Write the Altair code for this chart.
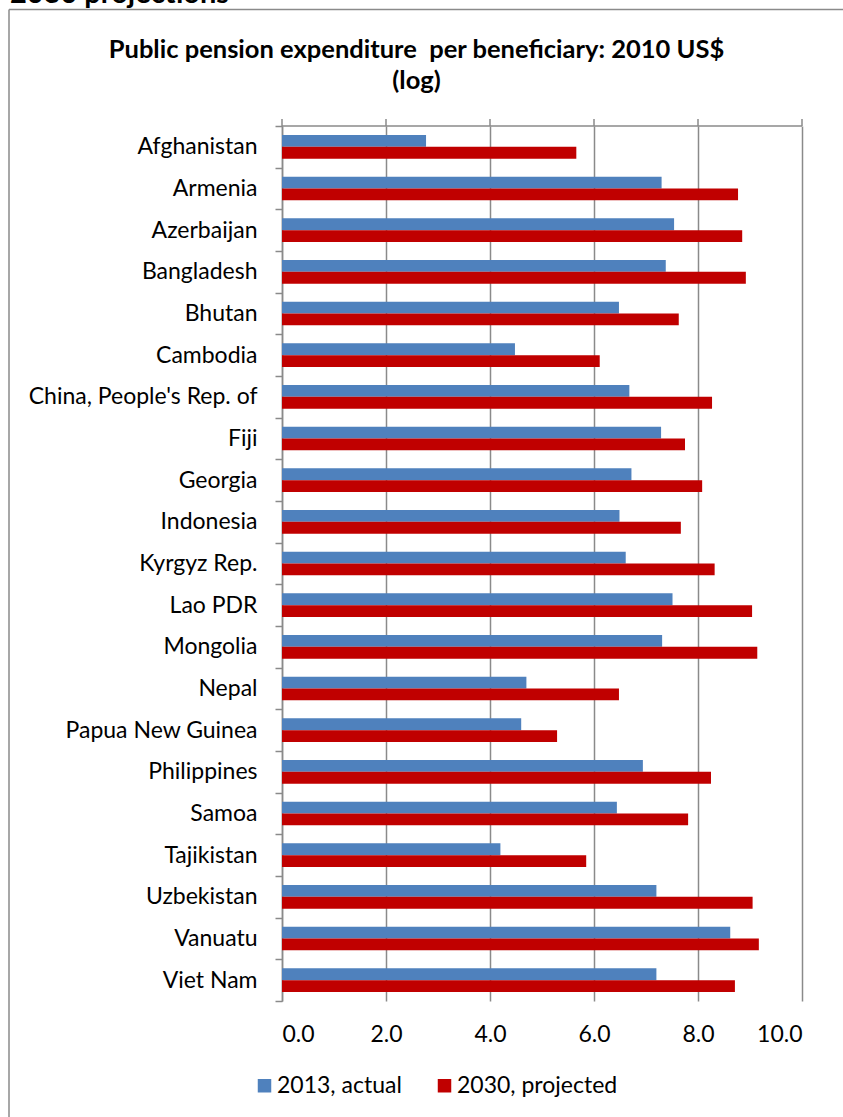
import altair as alt
import pandas as pd

# Categories and series values (log of 2010 US$ per beneficiary)
countries = [
    "Afghanistan", "Armenia", "Azerbaijan", "Bangladesh", "Bhutan", "Cambodia",
    "China, People's Rep. of", "Fiji", "Georgia", "Indonesia", "Kyrgyz Rep.",
    "Lao PDR", "Mongolia", "Nepal", "Papua New Guinea", "Philippines", "Samoa",
    "Tajikistan", "Uzbekistan", "Vanuatu", "Viet Nam",
]
actual_2013 = [2.77, 7.30, 7.54, 7.38, 6.48, 4.48, 6.68, 7.29, 6.72, 6.49, 6.61,
               7.51, 7.31, 4.70, 4.60, 6.94, 6.44, 4.20, 7.20, 8.62, 7.20]
projected_2030 = [5.66, 8.77, 8.85, 8.92, 7.63, 6.11, 8.27, 7.75, 8.08, 7.67, 8.32,
                  9.04, 9.14, 6.48, 5.29, 8.25, 7.81, 5.85, 9.05, 9.17, 8.71]
series = ["2013, actual", "2030, projected"]
colors = ["#4F81BD", "#C00000"]
x_ticks = [0, 2, 4, 6, 8, 10]

# the double space after "expenditure" is kept with a no-break space
title_lines = ["Public pension expenditure \u00a0per beneficiary: 2010 US$", "(log)"]
heading = "2030 projections"

FONT = "Lato"
GRID = "#8A8A8A"
LABEL_SIZE = 23

rows = []
for c, a, p in zip(countries, actual_2013, projected_2030):
    rows.append({"country": c, "series": series[0], "value": a})
    rows.append({"country": c, "series": series[1], "value": p})
df = pd.DataFrame(rows)

x_scale = alt.Scale(domain=[0, 10], nice=False, zero=True)
x_axis = alt.Axis(
    values=x_ticks, format=".1f", title=None, domain=False, ticks=False,
    grid=True, gridColor=GRID, gridWidth=1.5,
    labelFont=FONT, labelFontSize=LABEL_SIZE, labelColor="black",
    labelPadding=22,
)

bars = alt.Chart(df).mark_bar().encode(
    x=alt.X("value:Q", scale=x_scale, axis=x_axis),
    y=alt.Y(
        "country:N",
        sort=countries,
        scale=alt.Scale(paddingInner=0, paddingOuter=0),
        axis=alt.Axis(
            title=None, tickBand="extent", tickSize=7, tickColor=GRID, tickWidth=1.5,
            domainColor=GRID, domainWidth=1.5,
            labelFont=FONT, labelFontSize=LABEL_SIZE, labelColor="black",
            labelPadding=18, labelLimit=400,
        ),
    ),
    yOffset=alt.YOffset(
        "series:N", sort=series,
        scale=alt.Scale(paddingInner=0, paddingOuter=0.766),
    ),
    color=alt.Color(
        "series:N",
        scale=alt.Scale(domain=series, range=colors),
        legend=alt.Legend(
            title=None, orient="none", legendX=-29, legendY=948,
            direction="horizontal", symbolType="square", symbolSize=182,
            symbolStrokeWidth=0, labelFont=FONT, labelFontSize=LABEL_SIZE,
            labelColor="black", labelOffset=1, labelLimit=400,
            columnPadding=31, padding=0,
        ),
    ),
)

# Value-axis line along the top of the plot with outward ticks
top_line = alt.Chart(pd.DataFrame({"value": [0], "end": [10]})).mark_rule(
    color=GRID, strokeWidth=1.5
).encode(
    x=alt.X("value:Q", scale=x_scale, axis=x_axis),
    x2="end:Q",
    y=alt.value(0),
)
top_ticks = alt.Chart(pd.DataFrame({"value": x_ticks})).mark_rule(
    color=GRID, strokeWidth=1.5
).encode(
    x=alt.X("value:Q", scale=x_scale, axis=x_axis),
    y=alt.value(-7),
    y2=alt.value(0),
)

# Frame around the chart (left and top edges)
frame_left = alt.Chart(pd.DataFrame({"k": [0]})).mark_rule(
    color=GRID, strokeWidth=1.5
).encode(x=alt.value(-273), y=alt.value(-116.5), y2=alt.value(1000))
frame_top = alt.Chart(pd.DataFrame({"k": [0]})).mark_rule(
    color=GRID, strokeWidth=1.5
).encode(x=alt.value(-273), x2=alt.value(600), y=alt.value(-116.5))

title1 = alt.Chart(pd.DataFrame({"t": [title_lines[0]]})).mark_text(
    font=FONT, fontSize=25.5, fontWeight="bold", color="black",
    align="center", baseline="alphabetic",
).encode(text="t:N", x=alt.value(134.5), y=alt.value(-68))
title2 = alt.Chart(pd.DataFrame({"t": [title_lines[1]]})).mark_text(
    font=FONT, fontSize=25.5, fontWeight="bold", color="black",
    align="center", baseline="alphabetic",
).encode(text="t:N", x=alt.value(134.5), y=alt.value(-37))
head = alt.Chart(pd.DataFrame({"t": [heading]})).mark_text(
    font=FONT, fontSize=29, fontWeight="bold", color="black",
    align="left", baseline="alphabetic",
).encode(text="t:N", x=alt.value(-272), y=alt.value(-123))

chart = alt.layer(
    frame_left, frame_top, head, title1, title2, bars, top_line, top_ticks
).properties(
    width=520,
    height=875,
    padding={"left": 282, "top": 126, "right": 41, "bottom": 116},
    autosize=alt.AutoSizeParams(type="none"),
    background="white",
).configure_view(stroke="transparent")

chart.save("out.html", embed_options={"renderer": "svg", "actions": False})
